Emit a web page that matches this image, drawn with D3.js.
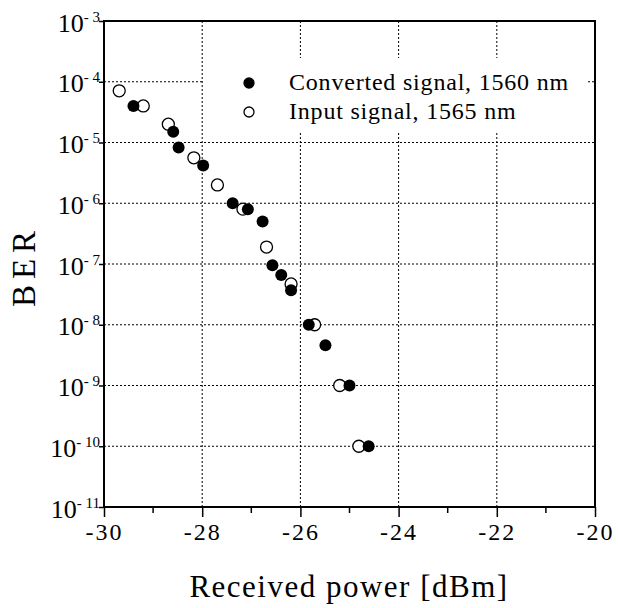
<!DOCTYPE html>
<html>
<head>
<meta charset="utf-8">
<script src="https://cdn.jsdelivr.net/npm/d3@7"></script>
<style>
  body { margin: 0; background: #fff; }
  svg text { font-family: 'Liberation Serif', 'DejaVu Serif', 'Times New Roman', Times, serif !important; fill: #000; }
</style>
</head>
<body>
<script>
// received power [dBm] and BER
var convPower = [-29.40, -28.59, -28.48, -27.98, -27.38, -27.07, -26.77, -26.57, -26.39, -26.19, -25.83, -25.49, -25.00, -24.61];
var convBer   = [4e-5, 1.5e-5, 8.3e-6, 4.2e-6, 1e-6, 8e-7, 5e-7, 9.5e-8, 6.6e-8, 3.7e-8, 1e-8, 4.6e-9, 1e-9, 1e-10];

var inPower = [-29.69, -29.20, -28.69, -28.17, -27.69, -27.17, -26.69, -26.19, -25.71, -25.20, -24.81];
var inBer   = [7.1e-5, 4e-5, 2e-5, 5.6e-6, 2e-6, 8e-7, 1.9e-7, 4.7e-8, 1e-8, 1e-9, 1e-10];

var xTicks = [-30, -28, -26, -24, -22, -20];
var xMinor = [-29, -27, -25, -23, -21];
var yExp = [-3, -4, -5, -6, -7, -8, -9, -10, -11];

var legendLabels = ["Converted signal, 1560 nm", "Input signal, 1565 nm"];

var W = 618, H = 608;
var x0 = 104, x1 = 595, y0 = 21, y1 = 507;
var serif = "'Liberation Serif', 'DejaVu Serif', 'Times New Roman', serif";

var svg = d3.select("body").append("svg")
    .attr("width", W)
    .attr("height", H);

var x = d3.scaleLinear().domain([-30, -20]).range([x0, x1]);
var y = d3.scaleLog().domain([1e-11, 1e-3]).range([y1, y0]);

// dotted grid
svg.append("g").selectAll("line")
   .data(xTicks.slice(1, -1))
   .enter().append("line")
   .attr("x1", function(d){ return x(d); })
   .attr("x2", function(d){ return x(d); })
   .attr("y1", y0).attr("y2", y1)
   .attr("stroke", "#000").attr("stroke-width", 1)
   .attr("stroke-dasharray", "2,2");

svg.append("g").selectAll("line")
   .data(yExp.slice(1, -1))
   .enter().append("line")
   .attr("x1", x0).attr("x2", x1)
   .attr("y1", function(d){ return y(Math.pow(10, d)); })
   .attr("y2", function(d){ return y(Math.pow(10, d)); })
   .attr("stroke", "#000").attr("stroke-width", 1)
   .attr("stroke-dasharray", "2,2");

// legend background hides the grid behind it
svg.append("rect")
   .attr("x", 203).attr("y", 58)
   .attr("width", 385).attr("height", 75)
   .attr("fill", "#fff");

// x axis
var xAxis = d3.axisBottom(x).tickValues(xTicks).tickSize(10).tickPadding(6)
    .tickFormat(function(d){ return String(d); });

var gx = svg.append("g")
   .attr("transform", "translate(0," + y1 + ")")
   .call(xAxis)
   .attr("font-family", serif);
gx.select(".domain").remove();
gx.selectAll("line").attr("stroke-width", 1.5);
gx.selectAll("text")
  .attr("font-size", 24)
  .attr("letter-spacing", 2);

svg.append("g").selectAll("line")
   .data(xMinor)
   .enter().append("line")
   .attr("x1", function(d){ return x(d); })
   .attr("x2", function(d){ return x(d); })
   .attr("y1", y1).attr("y2", y1 + 6)
   .attr("stroke", "#000").attr("stroke-width", 1.5);

// y axis
var yAxis = d3.axisLeft(y)
    .tickValues(yExp.map(function(e){ return Math.pow(10, e); }))
    .tickSize(5)
    .tickFormat("");

var gy = svg.append("g")
   .attr("transform", "translate(" + x0 + ",0)")
   .call(yAxis)
   .attr("font-family", serif);
gy.select(".domain").remove();
gy.selectAll("line").attr("stroke-width", 1.5);

var ylab = gy.selectAll(".tick").append("text")
   .attr("x", -4)
   .attr("y", 0)
   .attr("text-anchor", "end")
   .attr("fill", "#000");
ylab.append("tspan")
   .attr("dy", 10)
   .attr("font-size", 26)
   .text("10");
ylab.append("tspan")
   .attr("dy", -10)
   .attr("font-size", 15)
   .text(function(d){ return "- " + (-Math.round(Math.log10(d))); });

// frame
svg.append("rect")
   .attr("x", x0).attr("y", y0)
   .attr("width", x1 - x0).attr("height", y1 - y0)
   .attr("fill", "none")
   .attr("stroke", "#000")
   .attr("stroke-width", 2);

// points
svg.append("g").selectAll("circle")
   .data(inPower)
   .enter().append("circle")
   .attr("cx", function(d){ return x(d); })
   .attr("cy", function(d, i){ return y(inBer[i]); })
   .attr("r", 6)
   .attr("fill", "#fff")
   .attr("stroke", "#000")
   .attr("stroke-width", 1.3);

svg.append("g").selectAll("circle")
   .data(convPower)
   .enter().append("circle")
   .attr("cx", function(d){ return x(d); })
   .attr("cy", function(d, i){ return y(convBer[i]); })
   .attr("r", 6)
   .attr("fill", "#000");

// legend
var leg = svg.append("g").selectAll("g")
   .data(legendLabels)
   .enter().append("g")
   .attr("transform", function(d, i){ return "translate(249," + (83 + i * 29) + ")"; });

leg.append("circle")
   .attr("r", 5)
   .attr("fill", function(d, i){ return i === 0 ? "#000" : "#fff"; })
   .attr("stroke", "#000")
   .attr("stroke-width", 1.3);

leg.append("text")
   .attr("x", 40)
   .attr("y", 7)
   .attr("font-family", serif)
   .attr("font-size", 24)
   .attr("letter-spacing", 0.8)
   .text(function(d){ return d; });

// axis titles
svg.append("text")
   .attr("x", 349)
   .attr("y", 597)
   .attr("text-anchor", "middle")
   .attr("font-family", serif)
   .attr("font-size", 31)
   .attr("letter-spacing", 1.5)
   .text("Received power [dBm]");

svg.append("text")
   .attr("transform", "translate(35,266) rotate(-90)")
   .attr("text-anchor", "middle")
   .attr("font-family", serif)
   .attr("font-size", 33)
   .attr("letter-spacing", 6)
   .text("BER");
</script>
</body>
</html>
